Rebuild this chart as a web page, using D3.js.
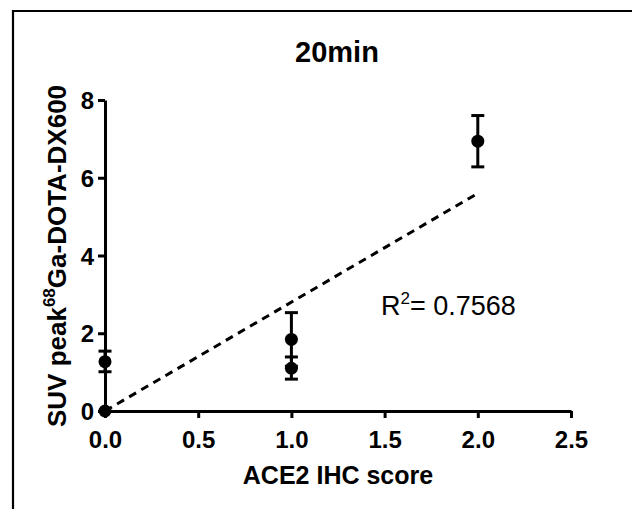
<!DOCTYPE html>
<html><head><meta charset="utf-8">
<script src="https://cdn.jsdelivr.net/npm/d3@7"></script>
<style>body{margin:0;background:#fff}svg{display:block}text{font-family:"Liberation Sans",Arial,sans-serif}</style>
</head><body><svg id="c" width="632" height="509"></svg>
<script>
const title = "20min";
const xLabel = "ACE2 IHC score";
const xTicks = [0, 0.5, 1, 1.5, 2, 2.5];
const yTicks = [0, 2, 4, 6, 8];
const pointX = [0, 0, 1, 1, 2];
const pointY = [0, 1.27, 1.84, 1.10, 6.94];
const errLow = [0, 1.01, 1.15, 0.82, 6.28];
const errHigh = [0, 1.54, 2.53, 1.39, 7.60];
const fitX = [0, 2];
const fitY = [0, 5.6];
const r2Text = "0.7568";

const svg = d3.select("#c");
svg.append("path").attr("d","M13,509 V11 H632").attr("fill","none").attr("stroke","#000").attr("stroke-width",2.2);

const x = d3.scaleLinear().domain([0,2.5]).range([105,571]);
const y = d3.scaleLinear().domain([0,8]).range([411,100]);

const gx = svg.append("g").attr("transform","translate(0,411)")
  .call(d3.axisBottom(x).tickValues(xTicks).tickFormat(d3.format(".1f")).tickSize(7).tickSizeOuter(0));
const gy = svg.append("g").attr("transform","translate(105,0)")
  .call(d3.axisLeft(y).tickValues(yTicks).tickFormat(d3.format("d")).tickSize(7).tickSizeOuter(0));
[gx,gy].forEach(g=>{
  g.attr("font-size",null).attr("font-family",null);
  g.select(".domain").attr("stroke","#000").attr("stroke-width",3);
  g.selectAll(".tick line").attr("stroke","#000").attr("stroke-width",3);
  g.selectAll(".tick text").attr("fill","#000").attr("font-size",24).attr("font-weight","bold")
   .style("font-weight","bold").style("font-size","24px");
});
gx.selectAll(".tick text").attr("dy","0.71em").attr("y",20);
gy.selectAll(".tick text").attr("x",-11).attr("dy","0.36em");

svg.append("line").attr("x1",x(fitX[0])).attr("y1",y(fitY[0])).attr("x2",x(fitX[1])).attr("y2",y(fitY[1]))
  .attr("stroke","#000").attr("stroke-width",3).attr("stroke-dasharray","8,6");

const idx = d3.range(pointX.length);
const eb = svg.append("g");
idx.forEach(i=>{
  if (errHigh[i]===errLow[i]) return;
  const cx = x(pointX[i]);
  eb.append("line").attr("x1",cx).attr("x2",cx).attr("y1",y(errLow[i])).attr("y2",y(errHigh[i])).attr("stroke","#000").attr("stroke-width",3);
  [errLow[i],errHigh[i]].forEach(v=>{
    eb.append("line").attr("x1",cx-6.5).attr("x2",cx+6.5).attr("y1",y(v)).attr("y2",y(v)).attr("stroke","#000").attr("stroke-width",3);
  });
});
svg.append("g").selectAll("circle").data(idx).join("circle")
  .attr("cx",i=>x(pointX[i])).attr("cy",i=>y(pointY[i])).attr("r",6.5).attr("fill","#000");

svg.append("text").attr("x",337).attr("y",62).attr("text-anchor","middle").style("font-size","29px").style("font-weight","bold").text(title);
svg.append("text").attr("x",338).attr("y",484).attr("text-anchor","middle").style("font-size","25px").style("font-weight","bold").text(xLabel);
const yl = svg.append("text").attr("transform","translate(66,256) rotate(-90)").attr("text-anchor","middle").style("font-size","26px").style("font-weight","bold");
yl.append("tspan").text("SUV peak");
yl.append("tspan").style("font-size","17px").attr("dy",-11).text("68");
yl.append("tspan").attr("dy",11).text("Ga-DOTA-DX600");
const rt = svg.append("text").attr("x",381).attr("y",315).style("font-size","27px");
rt.append("tspan").text("R");
rt.append("tspan").style("font-size","17px").attr("dy",-11).text("2");
rt.append("tspan").attr("dy",11).text("= " + r2Text);
</script></body></html>
